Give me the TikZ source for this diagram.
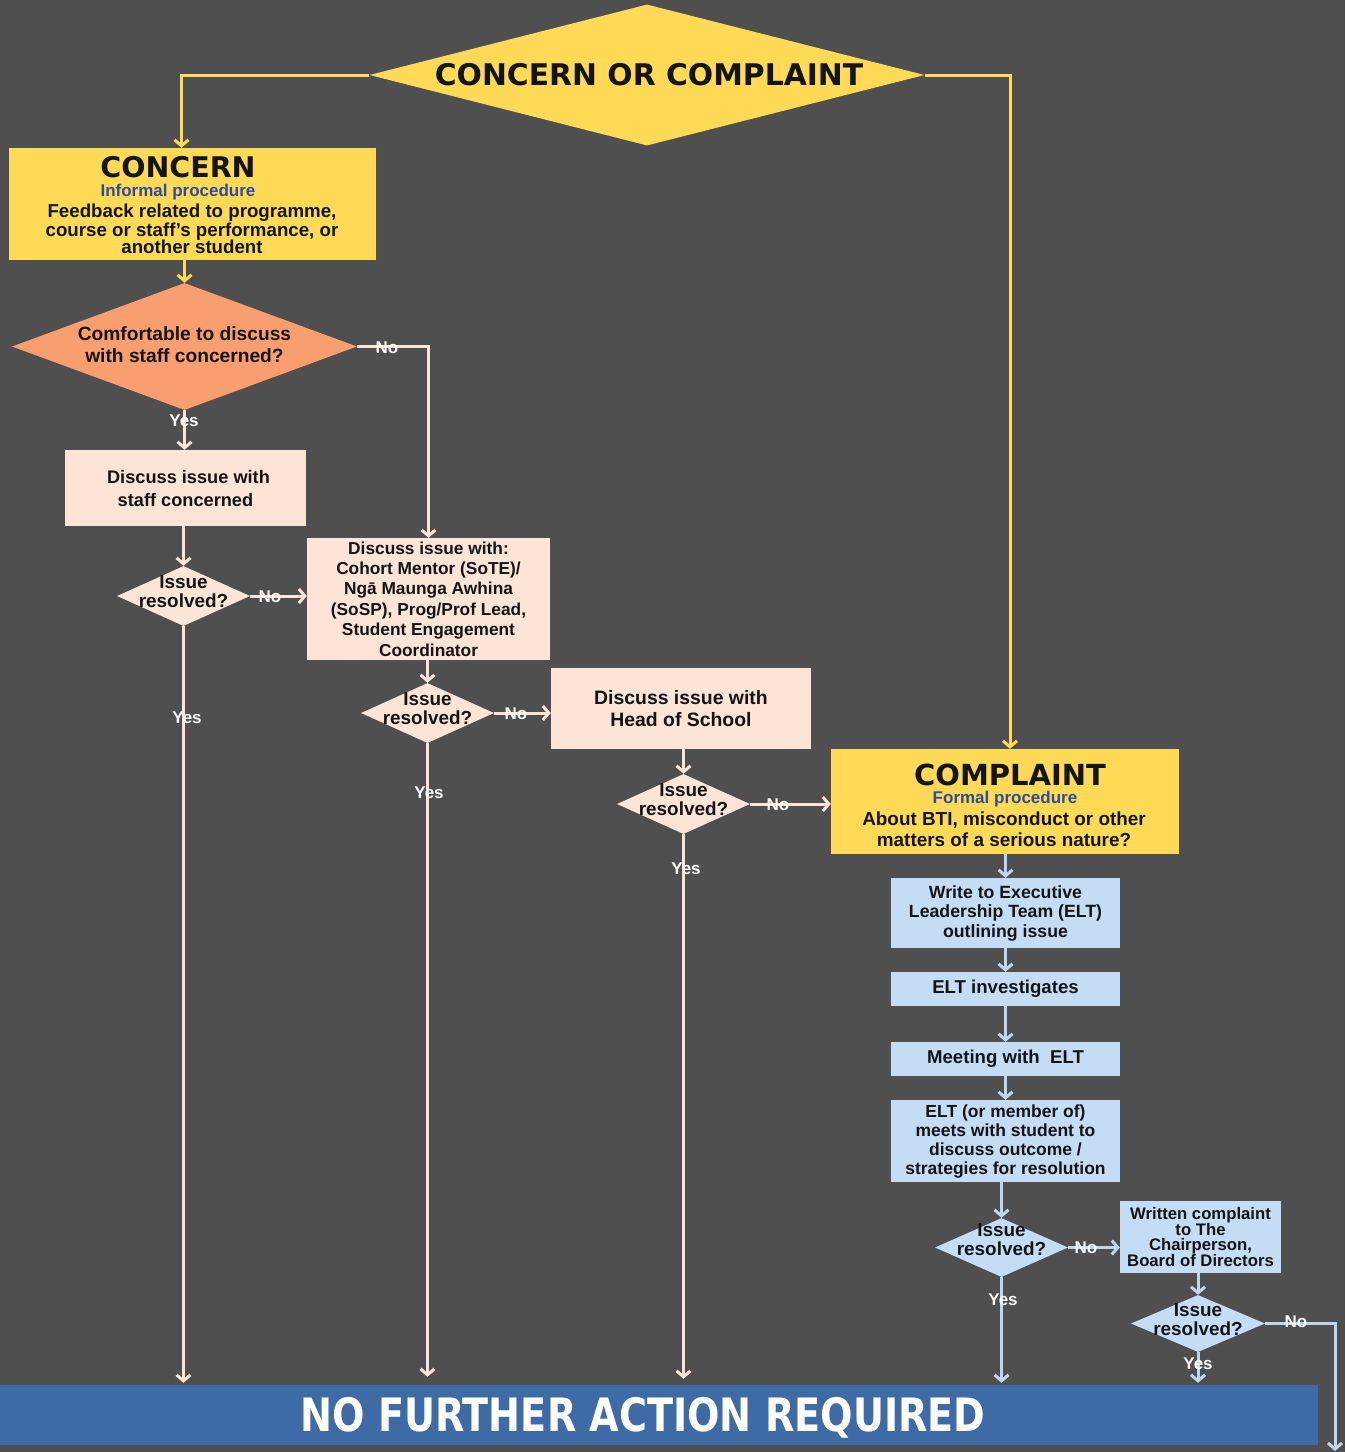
\documentclass[tikz,border=0pt]{standalone}
\usepackage{fontspec}
\setmainfont{Liberation Sans}
\newfontfamily\titlef{DejaVu Sans}
\newfontfamily\barf[FakeStretch=0.83]{DejaVu Sans}
\usetikzlibrary{shapes.geometric,arrows.meta,calc}
\definecolor{bg}{HTML}{4F4F4F}
\definecolor{ylw}{HTML}{FEDA56}
\definecolor{orng}{HTML}{F99E6F}
\definecolor{peach}{HTML}{FCE4D6}
\definecolor{lblue}{HTML}{C5DCF5}
\definecolor{lline}{HTML}{BDD7EE}
\definecolor{barblue}{HTML}{3E6BA5}
\definecolor{proc}{HTML}{2F4C9A}
\definecolor{ink}{HTML}{141414}
\begin{document}
\begin{tikzpicture}[x=1pt,y=-1pt,
  rbox/.style={rectangle,inner sep=0pt,align=center,text=ink,font=\bfseries\fontsize{18.2}{23}\selectfont},
  dia/.style={diamond,inner sep=0pt,text=ink},
  dtext/.style={align=center,text=ink,font=\bfseries\fontsize{18.9}{19}\selectfont},
  ttl/.style={text=ink,font=\titlef\bfseries\fontsize{28.5}{30}\selectfont,inner sep=0pt,anchor=base,text height=21pt,text depth=0pt},
  sub/.style={text=proc,font=\bfseries\fontsize{17}{17}\selectfont,inner sep=0pt,anchor=base,text height=12pt,text depth=0pt},
  conn/.style={line width=3pt,-{Straight Barb[length=6pt,width=14pt]}},
  yl/.style={conn,draw=ylw},
  pl/.style={conn,draw=peach},
  bl/.style={conn,draw=lline},
  lbl/.style={text=white,font=\bfseries\fontsize{17}{17}\selectfont,inner sep=0pt}]
\fill[bg] (0,0) rectangle (1345,1452);
\useasboundingbox (0,0) rectangle (1345,1452);

% top diamond
\node[dia,fill=ylw,minimum width=555pt,minimum height=141pt] (top) at (647,75) {};
\node[text=ink,font=\titlef\bfseries\fontsize{29.8}{30}\selectfont] (toptxt) at (649,75) {CONCERN OR COMPLAINT};

% concern box
\node[rbox,fill=ylw,minimum width=367pt,minimum height=112pt] (concern) at (192.5,204) {};
\node[ttl] (ctitle) at (178,177) {CONCERN};
\node[sub] (csub) at (178,196) {Informal procedure};
\node[align=center,text=ink,font=\bfseries\fontsize{18.7}{17.5}\selectfont,inner sep=0pt] (cbody) at (192,229) {Feedback related to programme,\\course or staff's performance, or\\another student};

% orange diamond
\node[dia,fill=orng,minimum width=345pt,minimum height=127pt] (orange) at (184.5,346.5) {};
\node[dtext,font=\bfseries\fontsize{19.2}{22}\selectfont] (otxt) at (184.5,345) {Comfortable to discuss\\with staff concerned?};

% peach column
\node[rbox,fill=peach,minimum width=241pt,minimum height=76pt] (box1) at (185.5,488) {\hspace*{6pt}Discuss issue with\\staff concerned};
\node[dia,fill=peach,minimum width=133pt,minimum height=60pt] (d1) at (183.5,596) {};
\node[dtext] (d1t) at (183.5,592) {Issue\\resolved?};

\node[rbox,fill=peach,minimum width=243pt,minimum height=122pt,font=\bfseries\fontsize{17.3}{20.4}\selectfont] (box2) at (428.5,599) {Discuss issue with:\\Cohort Mentor (SoTE)/\\Ngā Maunga Awhina\\(SoSP), Prog/Prof Lead,\\Student Engagement\\Coordinator};
\node[dia,fill=peach,minimum width=133pt,minimum height=60pt] (d2) at (427.5,713) {};
\node[dtext] (d2t) at (427.5,709) {Issue\\resolved?};

\node[rbox,fill=peach,minimum width=260pt,minimum height=81pt,font=\bfseries\fontsize{19.4}{22}\selectfont] (box3) at (681,708.5) {Discuss issue with\\Head of School};
\node[dia,fill=peach,minimum width=133pt,minimum height=60pt] (d3) at (683.5,804) {};
\node[dtext] (d3t) at (683.5,800) {Issue\\resolved?};

% complaint box
\node[rbox,fill=ylw,minimum width=348pt,minimum height=105pt] (complaint) at (1005,801.5) {};
\node[ttl,font=\titlef\bfseries\fontsize{29}{30}\selectfont] (cptitle) at (1010,785) {COMPLAINT};
\node[sub] (cpsub) at (1005,803) {Formal procedure};
\node[align=center,text=ink,font=\bfseries\fontsize{18.9}{21}\selectfont,inner sep=0pt] (cpbody) at (1004,829) {About BTI, misconduct or other\\matters of a serious nature?};

% blue column
\node[rbox,fill=lblue,minimum width=229pt,minimum height=70pt,font=\bfseries\fontsize{17.7}{19.5}\selectfont] (write) at (1005.5,913) {Write to Executive\\Leadership Team (ELT)\\outlining issue};
\node[rbox,fill=lblue,minimum width=229pt,minimum height=34pt,font=\bfseries\fontsize{18.6}{20}\selectfont] (elt) at (1005.5,989) {ELT investigates};
\node[rbox,fill=lblue,minimum width=229pt,minimum height=34pt,font=\bfseries\fontsize{18.6}{20}\selectfont] (meet) at (1005.5,1059) {Meeting with\ \ ELT};
\node[rbox,fill=lblue,minimum width=229pt,minimum height=82pt,font=\bfseries\fontsize{17.5}{19}\selectfont] (member) at (1005.5,1141) {ELT (or member of)\\meets with student to\\discuss outcome /\\strategies for resolution};
\node[dia,fill=lblue,minimum width=133pt,minimum height=59pt] (d4) at (1001.5,1247.5) {};
\node[dtext] (d4t) at (1001.5,1240) {Issue\\resolved?};
\node[rbox,fill=lblue,minimum width=161pt,minimum height=72pt,font=\bfseries\fontsize{16.7}{15.7}\selectfont] (written) at (1200.5,1237) {Written complaint\\to The\\Chairperson,\\Board of Directors};
\node[dia,fill=lblue,minimum width=134pt,minimum height=57pt] (d5) at (1198,1323.5) {};
\node[dtext] (d5t) at (1198,1320) {Issue\\resolved?};

% bottom bar
\node[rectangle,fill=barblue,minimum width=1318pt,minimum height=60pt,inner sep=0pt] (bar) at (659,1415) {};
\node[text=white,font=\barf\bfseries\fontsize{46}{46}\selectfont,inner sep=0pt] (bartxt) at (643,1418) {NO FURTHER ACTION REQUIRED};
\coordinate (endpt) at (1335,1451);

% connectors
\draw[yl] (top.west) -| ([xshift=-11pt]concern.north);
\draw[yl] (top.east) -| ([xshift=5pt]complaint.north);
\draw[yl] (concern.south -| orange.north) -- (orange.north);
\draw[pl] (orange.south) -- (orange.south |- box1.north);
\draw[pl] (orange.east) -| (box2.north);
\draw[pl] (box1.south -| d1.north) -- (d1.north);
\draw[pl] (d1.east) -- (d1.east -| box2.west);
\draw[pl,shorten >=2pt] (d1.south) -- (d1.south |- bar.north);
\draw[pl] (box2.south -| d2.north) -- (d2.north);
\draw[pl] (d2.east) -- (d2.east -| box3.west);
\draw[pl,shorten >=8pt] (d2.south) -- (d2.south |- bar.north);
\draw[pl] (box3.south -| d3.north) -- (d3.north);
\draw[pl] (d3.east) -- (d3.east -| complaint.west);
\draw[pl,shorten >=6pt] (d3.south) -- (d3.south |- bar.north);
\draw[bl] (complaint.south -| write.north) -- (write.north);
\draw[bl] (write.south -| elt.north) -- (elt.north);
\draw[bl] (elt.south) -- (meet.north);
\draw[bl] (meet.south) -- (member.north);
\draw[bl] (member.south -| d4.north) -- (d4.north);
\draw[bl] (d4.east) -- (d4.east -| written.west);
\draw[bl,shorten >=2pt] (d4.south) -- (d4.south |- bar.north);
\draw[bl] (written.south -| d5.north) -- (d5.north);
\draw[bl,shorten >=2pt] (d5.south) -- (d5.south |- bar.north);
\draw[bl] (d5.east) -| (endpt);

% labels
\node[lbl] (n1) at (387,348) {No};
\node[lbl] (n2) at (270,597) {No};
\node[lbl] (n3) at (516,714) {No};
\node[lbl] (n4) at (778,805) {No};
\node[lbl] (n5) at (1086,1248) {No};
\node[lbl] (n6) at (1296,1322) {No};
\node[lbl] (y1) at (184,421) {Yes};
\node[lbl] (y2) at (187,718) {Yes};
\node[lbl] (y3) at (429,793) {Yes};
\node[lbl] (y4) at (686,869) {Yes};
\node[lbl] (y5) at (1003,1300) {Yes};
\node[lbl] (y6) at (1198,1364) {Yes};
\end{tikzpicture}
\end{document}
